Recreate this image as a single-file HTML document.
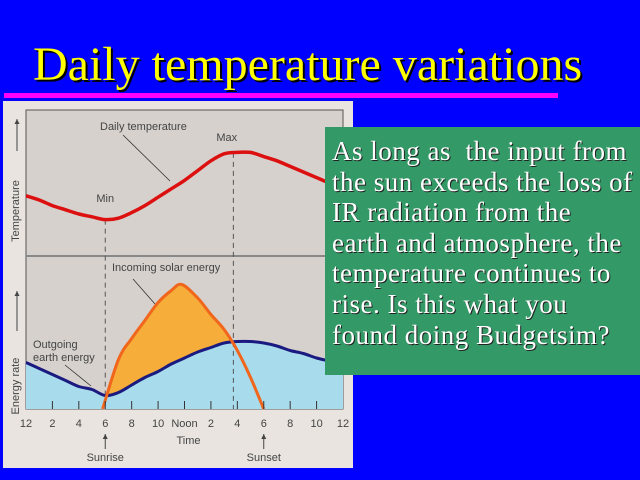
<!DOCTYPE html>
<html><head><meta charset="utf-8"><style>
body{margin:0;width:640px;height:480px;background:#0000ff;position:relative;overflow:hidden;font-family:"Liberation Serif",serif}
#title{position:absolute;left:33px;top:35px;font-size:48px;color:#ffff00;text-shadow:2px 2px 0 #000;white-space:nowrap;line-height:60px}
#rule{position:absolute;left:4px;top:93px;width:554px;height:5px;background:#ff00ff}
#panel{position:absolute;left:3px;top:101px}
#box{position:absolute;left:325px;top:127px;width:315px;height:248px;background:#339966;color:#fff;font-size:27px;letter-spacing:0.5px;line-height:30.6px;padding:9px 0 0 7px;box-sizing:border-box;text-shadow:1px 1px 0 #222;white-space:nowrap;overflow:hidden}
</style></head><body>
<div id="title">Daily temperature variations</div>
<div id="rule"></div>
<svg id="panel" width="350" height="367" font-family="Liberation Sans, sans-serif"></svg>
<div id="box">As long as&nbsp; the input from<br>the sun exceeds the loss of<br>IR radiation from the<br>earth and atmosphere, the<br>temperature continues to<br>rise. Is this what you<br>found doing Budgetsim?</div>
<script>
const hours=[0,1,2,3,4,5,6,7,8,9,10,11,12,13,14,15,16,17,18,19,20,21,22,23,24];
const tempVals=[43,40,36,33,30,28,26,27,31,36,42,48,54,61,68,73,74,74,71,68,64,60,56,52,49];
const outVals=[31,27,23,19,15,13,9,11,16,21,25,30,34,38,41,44,45,45,44,42,39,37,34,32,31];
const solarHours=[5.8,7,8,9,10,11,11.8,13,14,15,16,17,18];
const solarVals=[0,33,47,59,71,79,83,74,63,53,39,21,0];
const tickLabels=["12","2","4","6","8","10","Noon","2","4","6","8","10","12"];
const minHour=6, maxHour=15.7;
const NS="http://www.w3.org/2000/svg";
const svg=document.getElementById('panel');
const OX=3,OY=101;
const X0=26-OX,X1=343-OX,TOP=110-OY,MID=256-OY,BOT=409-OY;
const xS=h=>X0+(X1-X0)*h/24;
const yT=v=>MID-v*1.4;
const yE=v=>BOT-v*1.5;
function el(t,a,p){const e=document.createElementNS(NS,t);for(const k in a)e.setAttribute(k,a[k]);(p||svg).appendChild(e);return e;}
function curve(xs,ys){let d='M'+xs[0]+','+ys[0];for(let i=0;i<xs.length-1;i++){const p0=i?i-1:i,p3=i+2<xs.length?i+2:i+1;
const c1x=xs[i]+(xs[i+1]-xs[p0])/6,c1y=ys[i]+(ys[i+1]-ys[p0])/6,c2x=xs[i+1]-(xs[p3]-xs[i])/6,c2y=ys[i+1]-(ys[p3]-ys[i])/6;
d+=` C${c1x},${c1y} ${c2x},${c2y} ${xs[i+1]},${ys[i+1]}`;}return d;}
function interp(hs,vs,h){for(let i=0;i<hs.length-1;i++)if(h>=hs[i]&&h<=hs[i+1])return vs[i]+(vs[i+1]-vs[i])*(h-hs[i])/(hs[i+1]-hs[i]);return null;}
let e;
e=el('rect',{x:0,y:0,width:350,height:367,fill:'#e9e4df'});
e=el('rect',{x:X0,y:TOP,width:X1-X0,height:BOT-TOP,fill:'#d6d1cd',stroke:'#555','stroke-width':1});
const hx=hours.map(xS),tY=tempVals.map(yT),oY=outVals.map(yE);
const outPath=curve(hx,oY);
e=el('path',{d:outPath+` L${X1},${BOT} L${X0},${BOT} Z`,fill:'#a8dcec'});
const sx=solarHours.map(xS),sy=solarVals.map(yE);
const sPath=curve(sx,sy);
let hs=[];for(let h=solarHours[0];h<=solarHours[solarHours.length-1];h+=0.05){const s=interp(solarHours,solarVals,h),o=interp(hours,outVals,h);if(s>o){hs.push(h);}}
if(hs.length){const a=hs[0],b=hs[hs.length-1];let d='';
for(let h=a;h<=b;h+=0.05)d+=(d?'L':'M')+xS(h)+','+yE(interp(solarHours,solarVals,h));
for(let h=b;h>=a;h-=0.05)d+='L'+xS(h)+','+yE(interp(hours,outVals,h));
e=el('path',{d:d+'Z',fill:'#f6ad3a'});}
e=el('line',{x1:X0,x2:X1,y1:MID,y2:MID,stroke:'#888','stroke-width':2});
[[minHour,yT(interp(hours,tempVals,minHour))],[maxHour,yT(interp(hours,tempVals,maxHour))]].forEach((p,i)=>{
e=el('line',{x1:xS(p[0]),x2:xS(p[0]),y1:p[1],y2:BOT,stroke:'#555','stroke-dasharray':'5,4'});});
e=el('path',{d:outPath,fill:'none',stroke:'#1a1a80','stroke-width':3});
e=el('path',{d:sPath,fill:'none',stroke:'#f0661c','stroke-width':3});
e=el('path',{d:curve(hx,tY),fill:'none',stroke:'#dd1010','stroke-width':3.5});
tickLabels.forEach((t,i)=>{const x=xS(i*2);
if(i>0&&i<12){e=el('line',{x1:x,x2:x,y1:BOT,y2:BOT-8,stroke:'#333'});}
e=el('text',{x:x,y:BOT+18,'text-anchor':'middle','font-size':11,fill:'#444'});e.textContent=t;});
function txt(s,x,y,n,anchor,rot){const e=el('text',{x:x,y:y,'font-size':11,fill:'#444','text-anchor':anchor||'start'});if(rot)e.setAttribute('transform',`rotate(-90 ${x} ${y})`);e.textContent=s;return e;}
txt('Time',xS(12.3),BOT+35,'x-axis-title','middle');
txt('Sunrise',xS(6),BOT+52,'sunrise-label','middle');
txt('Sunset',xS(18),BOT+52,'sunset-label','middle');
txt('Daily temperature',97,29,'temp-annotation');
txt('Max',xS(15.2),40,'max-label','middle');
txt('Min',xS(6),101,'min-label','middle');
txt('Incoming solar energy',109,170,'solar-annotation');
txt('Outgoing',30,247,'outgoing-annotation');
txt('earth energy',30,260,'outgoing-annotation-2');
txt('Temperature',16,110,'y-axis-title-temp','middle',true);
txt('Energy rate',16,285,'y-axis-title-energy','middle',true);
[[14,50,14,18],[14,230,14,190],[xS(6),BOT+40,xS(6),BOT+25],[xS(18),BOT+40,xS(18),BOT+25]].forEach(a=>{e=el('line',{x1:a[0],y1:a[1],x2:a[2],y2:a[3],stroke:'#444'});
e=el('path',{d:`M${a[2]-2.5},${a[3]+5} L${a[2]},${a[3]} L${a[2]+2.5},${a[3]+5}Z`,fill:'#444'});});
[[120,34,167,80],[130,178,152,203],[62,264,88,285]].forEach(a=>{e=el('line',{x1:a[0],y1:a[1],x2:a[2],y2:a[3],stroke:'#333','stroke-width':0.8});});
</script>
</body></html>
